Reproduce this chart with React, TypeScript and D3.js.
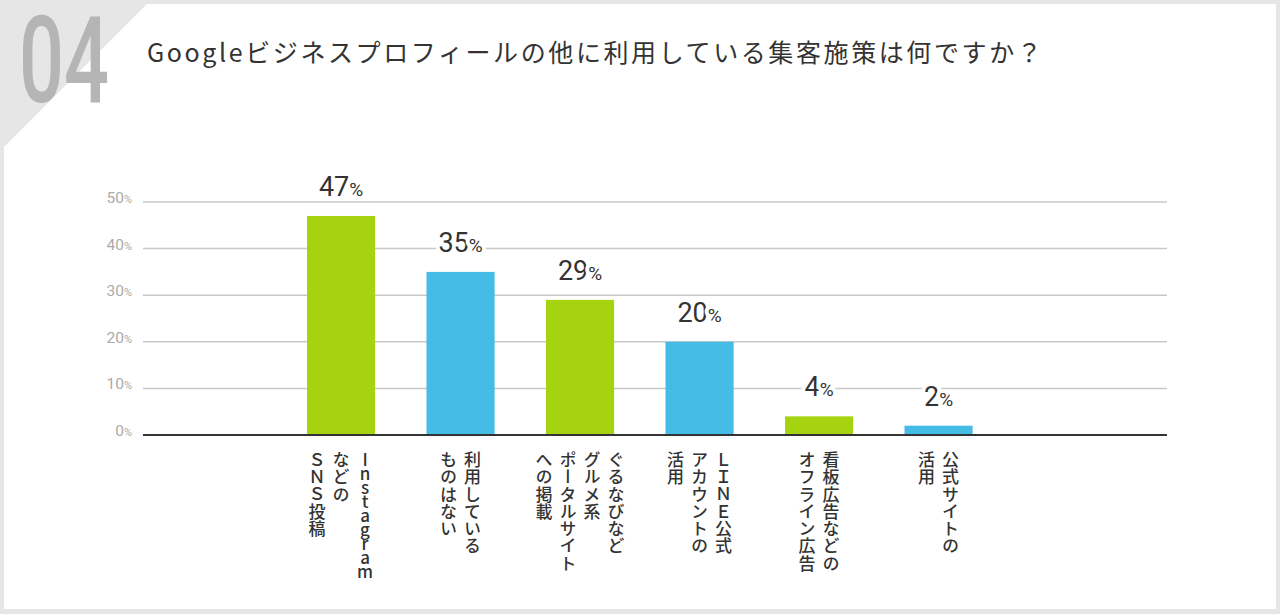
import React from "react";
import * as d3 from "d3";

const categories: string[][] = [
  ["Instagram", "などの", "ＳＮＳ投稿"],
  ["利用している", "ものはない"],
  ["ぐるなびなど", "グルメ系", "ポータルサイト", "への掲載"],
  ["ＬＩＮＥ公式", "アカウントの", "活用"],
  ["看板広告などの", "オフライン広告"],
  ["公式サイトの", "活用"],
];
const values: number[] = [47, 35, 29, 20, 4, 2];
const barColors: string[] = ["#a5d30f", "#45bce6", "#a5d30f", "#45bce6", "#a5d30f", "#45bce6"];
const yTicks: number[] = [0, 10, 20, 30, 40, 50];
const title = "Googleビジネスプロフィールの他に利用している集客施策は何ですか？";
const qNumber = "04";

const W = 1280;
const H = 614;

export default function App() {
  const y = d3.scaleLinear().domain([0, 50]).range([435, 202]);
  const ids = categories.map((_, i) => String(i));
  const x = d3
    .scaleBand<string>()
    .domain(ids)
    .range([255.6, 1024])
    .paddingInner(0.43)
    .paddingOuter(0.43);
  const gridX0 = 143;
  const gridX1 = 1167;
  const jp = "'Noto Sans CJK JP', 'Noto Sans', sans-serif";
  const num = "Roboto, 'Noto Sans', sans-serif";
  const isLatin = (s: string) => /^[A-Za-z]+$/.test(s);

  return (
    <div style={{ position: "absolute", left: 0, top: 0, width: W, height: H }}>
      <svg width={W} height={H} style={{ display: "block" }}>
        <rect x={0} y={0} width={W} height={H} fill="#e6e6e6" />
        <polygon points="147,4 1276,4 1276,609 4,609 4,147" fill="#ffffff" />
        <text
          x={0}
          y={0}
          transform="translate(19,101.5) scale(0.66,1)"
          fontFamily={num}
          fontWeight={500}
          fontSize={120}
          fill="#b5b5b5"
        >
          {qNumber}
        </text>
        <text x={147} y={62} fontFamily={jp} fontSize={25} letterSpacing={2.6} fill="#333333">
          {title}
        </text>

        {yTicks.map((t) => (
          <g key={t}>
            {t > 0 && (
              <line x1={gridX0} x2={gridX1} y1={y(t)} y2={y(t)} stroke="#c8c8c8" strokeWidth={1.5} />
            )}
            <text x={132} y={y(t) + 1} textAnchor="end" fontFamily={num} fill="#aaaaaa">
              <tspan fontSize={15.5}>{t}</tspan>
              <tspan fontSize={11}>%</tspan>
            </text>
          </g>
        ))}

        {values.map((v, i) => (
          <rect
            key={i}
            x={x(String(i))}
            y={y(v)}
            width={x.bandwidth()}
            height={y(0) - y(v)}
            fill={barColors[i]}
          />
        ))}
        <line x1={gridX0} x2={gridX1} y1={y(0)} y2={y(0)} stroke="#333333" strokeWidth={2} />

        {values.map((v, i) => {
          const cx = (x(String(i)) as number) + x.bandwidth() / 2;
          return (
            <text
              key={i}
              x={cx}
              y={y(v) - 20}
              textAnchor="middle"
              fontFamily={num}
              fill="#333333"
              stroke="#ffffff"
              strokeWidth={8}
              strokeLinejoin="round"
              style={{ paintOrder: "stroke" }}
            >
              <tspan fontSize={27}>{v}</tspan>
              <tspan fontSize={19}>%</tspan>
            </text>
          );
        })}

        {categories.map((lines, i) => {
          const cx = (x(String(i)) as number) + x.bandwidth() / 2;
          const n = lines.length;
          return (
            <g key={i}>
              {lines.map((ln, j) => (
                <text
                  key={j}
                  x={cx + ((n - 1) / 2 - j) * 24}
                  y={451}
                  fontFamily={jp}
                  fontSize={17}
                  fontWeight={500}
                  letterSpacing={isLatin(ln) ? -3 : 0.3}
                  fill="#333333"
                  style={{ writingMode: "vertical-rl", textOrientation: "upright" } as React.CSSProperties}
                >
                  {ln}
                </text>
              ))}
            </g>
          );
        })}
      </svg>
    </div>
  );
}
